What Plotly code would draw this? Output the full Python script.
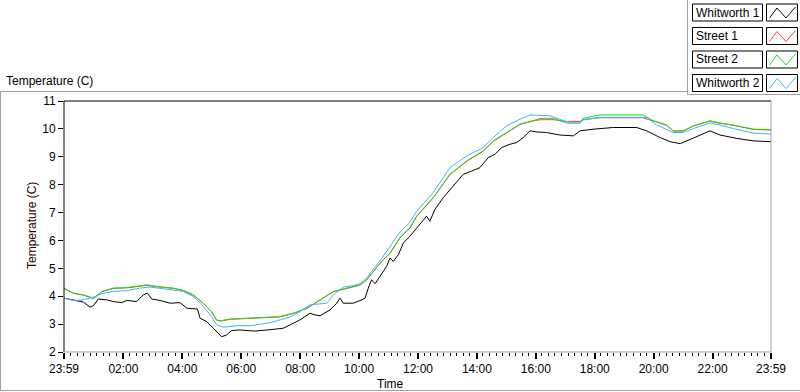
import plotly.graph_objects as go

# ---------------- data (hours elapsed since 23:59, temperature in C) ----------------
w1_hours = [0.00, 0.32, 0.66, 0.88, 1.00, 1.16, 1.45, 1.67, 1.96, 2.13, 2.47, 2.69, 2.83, 2.98,
            3.26, 3.60, 3.94, 4.17, 4.39, 4.53, 4.62, 4.84, 5.07, 5.35, 5.52, 5.69, 5.97, 6.48,
            6.99, 7.44, 7.67, 8.01, 8.35, 8.52, 8.69, 9.03, 9.26, 9.37, 9.48, 9.82, 10.11, 10.22,
            10.33, 10.44, 10.56, 10.73, 10.95, 11.07, 11.18, 11.35, 11.52, 11.74, 12.08, 12.31,
            12.42, 12.59, 12.87, 13.16, 13.38, 13.55, 13.84, 14.12, 14.40, 14.63, 14.86, 15.14,
            15.37, 15.59, 15.82, 16.05, 16.38, 16.84, 17.29, 17.52, 17.97, 18.65, 19.44, 19.78,
            20.23, 20.58, 20.92, 21.26, 21.60, 21.93, 22.27, 22.83, 23.40, 24.00]
w1_temp = [3.93, 3.85, 3.79, 3.61, 3.66, 3.90, 3.87, 3.81, 3.77, 3.85, 3.81, 4.05, 4.11, 3.90,
           3.85, 3.75, 3.77, 3.57, 3.54, 3.54, 3.21, 3.09, 2.85, 2.55, 2.61, 2.77, 2.79, 2.75,
           2.80, 2.85, 2.97, 3.15, 3.39, 3.33, 3.30, 3.51, 3.75, 3.93, 3.75, 3.75, 3.87, 3.93,
           4.29, 4.59, 4.45, 4.71, 5.07, 5.37, 5.25, 5.49, 5.91, 6.15, 6.57, 6.87,
           6.69, 7.11, 7.53, 7.89, 8.19, 8.37, 8.49, 8.61, 8.97, 9.09, 9.33, 9.45,
           9.51, 9.69, 9.93, 9.89, 9.87, 9.78, 9.75, 9.93, 9.99, 10.05, 10.05, 9.93,
           9.69, 9.54, 9.47, 9.63, 9.78, 9.93, 9.78, 9.66, 9.57, 9.54]

s2_hours = [0.00, 0.32, 0.66, 1.00, 1.28, 1.67, 2.13, 2.58, 2.81, 3.15, 3.71, 4.05, 4.39, 4.73,
            5.01, 5.18, 5.30, 5.64, 6.31, 6.76, 7.33, 7.78, 8.24, 8.69, 9.14, 9.60, 10.05, 10.27,
            10.50, 10.78, 11.07, 11.40, 11.74, 11.97, 12.53, 13.10, 13.67, 14.23, 14.57, 15.03,
            15.48, 15.82, 16.16, 16.60, 17.06, 17.52, 17.62, 18.19, 19.65, 19.99, 20.46, 20.68,
            21.02, 21.36, 21.93, 22.27, 22.72, 23.40, 24.00]
s2_temp = [4.29, 4.11, 4.05, 3.93, 4.17, 4.29, 4.31, 4.38, 4.41, 4.35, 4.29, 4.21, 4.05, 3.75,
           3.45, 3.15, 3.12, 3.18, 3.21, 3.25, 3.27, 3.39, 3.57, 3.87, 4.17, 4.29, 4.41, 4.59,
           4.89, 5.25, 5.55, 6.10, 6.45, 6.87, 7.53, 8.37, 8.85, 9.21, 9.57, 9.87,
           10.17, 10.25, 10.38, 10.38, 10.21, 10.21, 10.38, 10.50, 10.50, 10.30, 10.14, 9.93,
           9.93, 10.11, 10.29, 10.21, 10.14, 9.99, 9.97]

s1_hours = [0.00, 0.32, 0.66, 1.00, 1.28, 1.67, 2.13, 2.58, 2.81, 3.15, 3.71, 4.05, 4.39, 4.73,
            5.01, 5.18, 5.30, 5.64, 6.31, 6.76, 7.33, 7.78, 8.24, 8.69, 9.14, 9.60, 10.05, 10.27,
            10.50, 10.78, 11.07, 11.40, 11.74, 11.97, 12.53, 13.10, 13.67, 14.23, 14.57, 15.03,
            15.48, 15.82, 16.16, 16.60, 17.06, 17.52, 17.62, 18.19, 19.65, 19.99, 20.46, 20.68,
            21.02, 21.36, 21.93, 22.27, 22.72, 23.40, 24.00]
s1_temp = [4.27, 4.10, 4.04, 3.92, 4.16, 4.28, 4.30, 4.36, 4.39, 4.34, 4.28, 4.20, 4.04, 3.74,
           3.44, 3.14, 3.11, 3.17, 3.20, 3.24, 3.26, 3.38, 3.56, 3.86, 4.16, 4.28, 4.40, 4.58,
           4.88, 5.24, 5.54, 6.09, 6.44, 6.86, 7.52, 8.36, 8.84, 9.20, 9.56, 9.86,
           10.16, 10.27, 10.33, 10.33, 10.27, 10.27, 10.33, 10.40, 10.40, 10.29, 10.13, 9.92,
           9.92, 10.10, 10.28, 10.20, 10.13, 9.98, 9.96]

w2_hours = [0.00, 0.32, 0.66, 1.00, 1.28, 1.67, 2.13, 2.58, 2.92, 3.37, 4.05, 4.39, 4.73, 5.01,
            5.18, 5.41, 5.75, 5.97, 6.31, 6.99, 7.67, 8.01, 8.35, 8.92, 9.14, 9.48, 9.82, 10.05,
            10.27, 10.50, 10.78, 11.07, 11.40, 11.74, 11.97, 12.53, 13.10, 13.67, 14.23, 14.57,
            15.03, 15.48, 15.82, 16.50, 16.84, 17.18, 17.52, 17.62, 18.19, 19.78, 20.12, 20.68,
            21.02, 21.36, 21.93, 22.27, 22.72, 23.40, 24.00]
w2_temp = [3.93, 3.85, 3.87, 3.97, 4.09, 4.17, 4.20, 4.29, 4.33, 4.26, 4.17, 3.99, 3.63, 3.27,
           2.97, 2.89, 2.91, 2.95, 2.94, 3.05, 3.25, 3.45, 3.69, 3.75, 4.05, 4.33, 4.38, 4.45,
           4.65, 4.95, 5.35, 5.79, 6.30, 6.65, 7.05, 7.71, 8.61, 9.03, 9.33, 9.69,
           10.11, 10.35, 10.50, 10.47, 10.33, 10.21, 10.21, 10.33, 10.41, 10.41, 10.14, 9.87,
           9.87, 10.01, 10.21, 10.14, 10.01, 9.85, 9.81]

series_names = ["Whitworth 1", "Street 1", "Street 2", "Whitworth 2"]
series_colors = ["#000000", "#ff3c3c", "#12e012", "#40b4ff"]

x_tick_vals = [0, 2.0167, 4.0167, 6.0167, 8.0167, 10.0167, 12.0167, 14.0167, 16.0167,
               18.0167, 20.0167, 22.0167, 24]
x_tick_text = ["23:59", "02:00", "04:00", "06:00", "08:00", "10:00", "12:00", "14:00",
               "16:00", "18:00", "20:00", "22:00", "23:59"]
y_tick_vals = [2, 3, 4, 5, 6, 7, 8, 9, 10, 11]

# ---------------- figure ----------------
FONT = "Liberation Sans"
fig = go.Figure()
all_series = [(w1_hours, w1_temp), (s1_hours, s1_temp), (s2_hours, s2_temp), (w2_hours, w2_temp)]
for (xs, ys), name, col in zip(all_series, series_names, series_colors):
    fig.add_trace(go.Scatter(x=xs, y=ys, mode="lines", name=name,
                             line=dict(color=col, width=1), showlegend=False,
                             hoverinfo="skip"))

# plot-area geometry in pixels (for decorative shapes)
L, R, T, B = 64, 771, 101, 352


def px(x):
    return (x - L) / (R - L)


def py(y):
    return (B - y) / (B - T)


shapes = []
# plot frame: black left/top, grey right/bottom
shapes.append(dict(type="line", xref="paper", yref="paper", x0=0, x1=0, y0=0, y1=1,
                   line=dict(color="#000000", width=1)))
shapes.append(dict(type="line", xref="paper", yref="paper", x0=0, x1=1, y0=1, y1=1,
                   line=dict(color="#000000", width=1)))
shapes.append(dict(type="line", xref="paper", yref="paper", x0=1, x1=1, y0=0, y1=1,
                   line=dict(color="#a0a0a0", width=1)))
shapes.append(dict(type="line", xref="paper", yref="paper", x0=0, x1=1, y0=0, y1=0,
                   line=dict(color="#a0a0a0", width=1)))
# outer panel lines
shapes.append(dict(type="line", xref="paper", yref="paper", x0=px(0.5), x1=px(688), y0=py(91.5), y1=py(91.5),
                   line=dict(color="#a0a0a0", width=1)))
shapes.append(dict(type="line", xref="paper", yref="paper", x0=px(0.5), x1=px(0.5), y0=py(91.5), y1=py(391),
                   line=dict(color="#a0a0a0", width=1)))
shapes.append(dict(type="line", xref="paper", yref="paper", x0=px(0.5), x1=px(800), y0=py(390.5), y1=py(390.5),
                   line=dict(color="#a0a0a0", width=1)))
shapes.append(dict(type="line", xref="paper", yref="paper", x0=px(687.5), x1=px(687.5), y0=py(0), y1=py(95),
                   line=dict(color="#a0a0a0", width=1)))
shapes.append(dict(type="line", xref="paper", yref="paper", x0=px(687.5), x1=px(800), y0=py(94.5), y1=py(94.5),
                   line=dict(color="#a0a0a0", width=1)))

annotations = []
row_tops = [4, 27.5, 51, 74.5]
for top, name, col in zip(row_tops, series_names, series_colors):
    bot = top + 17
    shapes.append(dict(type="rect", xref="paper", yref="paper", x0=px(692.5), x1=px(762.5),
                       y0=py(bot), y1=py(top), line=dict(color="#000000", width=1), fillcolor="white"))
    shapes.append(dict(type="rect", xref="paper", yref="paper", x0=px(766.5), x1=px(797.5),
                       y0=py(bot), y1=py(top), line=dict(color="#000000", width=1), fillcolor="white"))
    pts = [(769.5, bot - 3), (777, top + 4), (786, bot - 3), (795.5, top + 3)]
    path = "M " + " L ".join(f"{px(a):.5f},{py(b):.5f}" for a, b in pts)
    shapes.append(dict(type="path", xref="paper", yref="paper", path=path,
                       line=dict(color=col, width=1)))
    annotations.append(dict(x=px(694), y=py(top + 8.5), xref="paper", yref="paper", text=name,
                            showarrow=False, xanchor="left", yanchor="middle",
                            font=dict(family=FONT, size=12, color="#000000")))

annotations.append(dict(x=px(4), y=py(81), xref="paper", yref="paper", text="Temperature (C)",
                        showarrow=False, xanchor="left", yanchor="middle",
                        font=dict(family=FONT, size=12, color="#000000")))
annotations.append(dict(x=px(390), y=py(384), xref="paper", yref="paper", text="Time",
                        showarrow=False, xanchor="center", yanchor="middle",
                        font=dict(family=FONT, size=12, color="#000000")))
annotations.append(dict(x=px(32), y=py(226), xref="paper", yref="paper", text="Temperature (C)",
                        showarrow=False, xanchor="center", yanchor="middle", textangle=-90,
                        font=dict(family=FONT, size=12, color="#2a0000")))

minor_vals = [i * 2 / 9 for i in range(0, 109)]

fig.update_layout(
    width=800, height=392,
    margin=dict(l=L, r=800 - R, t=T, b=392 - B),
    paper_bgcolor="white", plot_bgcolor="white",
    font=dict(family=FONT, size=12, color="#000000"),
    xaxis=dict(range=[0, 24], tickmode="array", tickvals=x_tick_vals, ticktext=x_tick_text,
               ticks="outside", ticklen=6, tickwidth=2, tickcolor="#000000",
               showgrid=False, zeroline=False, showline=False,
               tickfont=dict(family=FONT, size=12, color="#000000"),
               minor=dict(tickmode="array", tickvals=minor_vals, ticks="outside", ticklen=3,
                          tickwidth=1, tickcolor="#000000", showgrid=False)),
    yaxis=dict(range=[2, 11], tickmode="array", tickvals=y_tick_vals,
               ticks="outside", ticklen=5, tickwidth=1, tickcolor="#000000",
               showgrid=False, zeroline=False, showline=False,
               tickfont=dict(family=FONT, size=12, color="#000000")),
    shapes=shapes,
    annotations=annotations,
    showlegend=False,
)

fig.write_html("out.html", config={"displayModeBar": False},
               post_script="document.body.style.margin='0px';document.body.style.padding='0px';")
